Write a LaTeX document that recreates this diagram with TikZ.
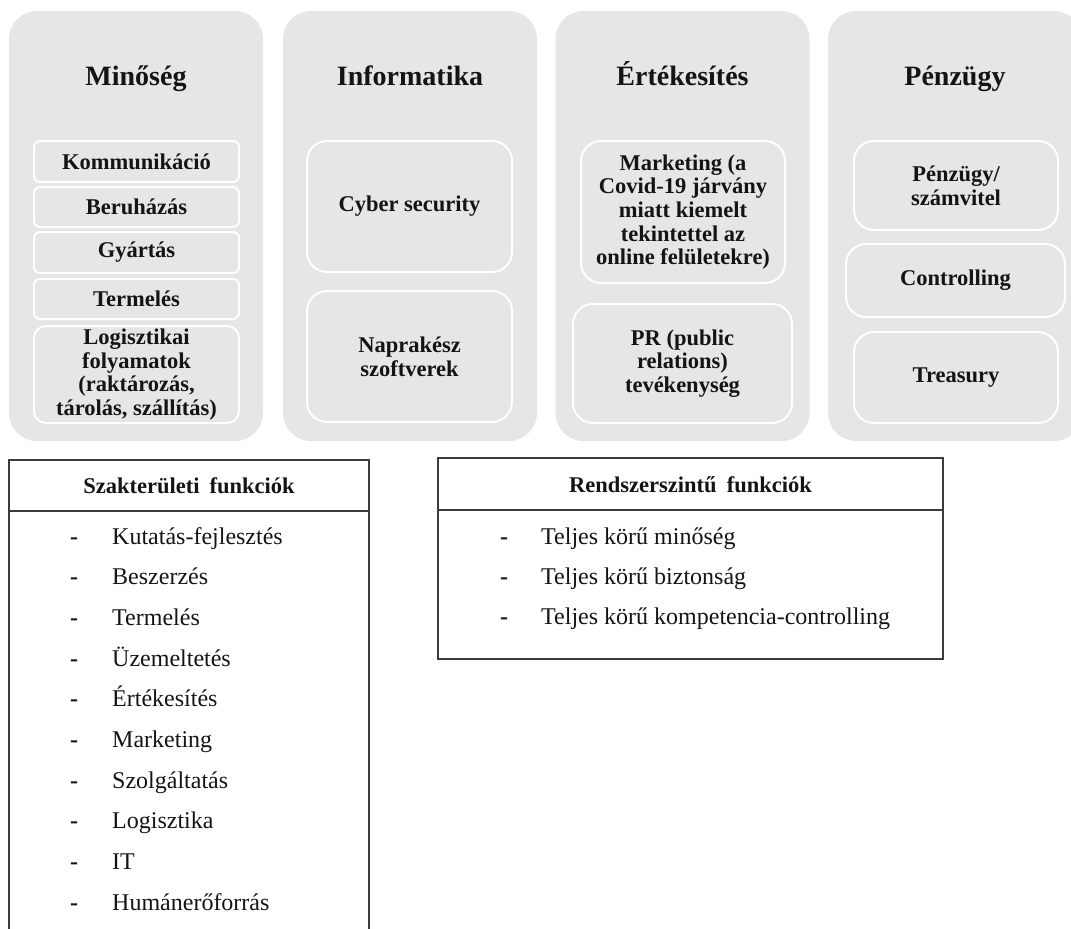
\documentclass[tikz,border=0pt]{standalone}
\usepackage{fontspec}
\setmainfont{Liberation Serif}
\definecolor{panelgray}{HTML}{E6E6E6}
\definecolor{ink}{HTML}{141414}
\definecolor{rulegray}{HTML}{3C3C3C}
\begin{document}
\begin{tikzpicture}[x=1pt,y=-1pt,
  panel/.style={fill=panelgray, draw=none, rounded corners=28pt, inner sep=0pt,
    minimum width=254pt, minimum height=430pt},
  headtitle/.style={anchor=base, text=ink, inner sep=0pt,
    font=\bfseries\fontsize{28}{30}\selectfont},
  itembox/.style={fill=panelgray, draw=white, line width=2pt, rounded corners=20pt,
    inner sep=0pt, align=center, text=ink,
    font=\bfseries\fontsize{22.5}{23.6}\selectfont},
  smallbox/.style={itembox, rounded corners=6pt},
  rule/.style={draw=rulegray, line width=1.5pt},
  tablehead/.style={anchor=base, text=ink, inner sep=0pt,
    font=\bfseries\fontsize{22.5}{24}\selectfont},
  dashmark/.style={anchor=base, text=ink, inner sep=0pt,
    font=\bfseries\fontsize{24}{26}\selectfont},
  listtext/.style={anchor=base west, text=ink, inner sep=0pt,
    font=\fontsize{24}{26}\selectfont}
]
\useasboundingbox (0,0) rectangle (1071,929);
\clip (0,0) rectangle (1071,929);

% four grey columns
\node[panel] (colMin) at (136,226) {};
\node[panel] (colInf) at (410,226) {};
\node[panel] (colErt) at (682.5,226) {};
\node[panel] (colPen) at (955,226) {};

\node[headtitle] (tMin) at (136,85) {Minőség};
\node[headtitle] (tInf) at (410,85) {Informatika};
\node[headtitle] (tErt) at (682.5,85) {Értékesítés};
\node[headtitle] (tPen) at (955,85) {Pénzügy};

% Minőség column
\node[smallbox, minimum width=205pt, minimum height=41pt] (bKom) at (136.5,161.5) {Kommunikáció};
\node[smallbox, minimum width=205pt, minimum height=40pt] (bBer) at (136.5,207) {Beruházás};
\node[smallbox, minimum width=205pt, minimum height=41pt] (bGya) at (136.5,252.5) {Gyártás};
\node[smallbox, minimum width=205pt, minimum height=40pt] (bTer) at (136.5,299) {Termelés};
\node[itembox, rounded corners=12pt, minimum width=205pt, minimum height=97pt] (bLog) at (136.5,374.5)
  {Logisztikai\\folyamatok\\(raktározás,\\tárolás, szállítás)};

% Informatika column
\node[itembox, minimum width=205pt, minimum height=131pt] (bCyb) at (409.5,206.5) {Cyber security};
\node[itembox, minimum width=205pt, minimum height=131pt] (bNap) at (409.5,356.5) {Naprakész\\szoftverek};

% Értékesítés column
\node[itembox, minimum width=204pt, minimum height=142pt] (bMar) at (683,212)
  {Marketing (a\\Covid-19 járvány\\miatt kiemelt\\tekintettel az\\online felületekre)};
\node[itembox, minimum width=219pt, minimum height=119pt] (bPR) at (682.5,363.5)
  {PR (public\\relations)\\tevékenység};

% Pénzügy column
\node[itembox, minimum width=204pt, minimum height=89pt] (bSzam) at (956,185.5) {Pénzügy/\\számvitel};
\node[itembox, minimum width=219pt, minimum height=73pt] (bCon) at (955.5,280.5) {Controlling};
\node[itembox, minimum width=204pt, minimum height=91pt] (bTre) at (956,377.5) {Treasury};

% table of specialist functions (open at the bottom)
\draw[rule] (9,935) -- (9,460) -- (369,460) -- (369,935);
\draw[rule] (9,511) -- (369,511);
\node[tablehead] (hSzak) at (189,493) {Szakterületi\hspace{0.45em}funkciók};

\foreach \txt [count=\i from 0] in {Kutatás-fejlesztés, Beszerzés, Termelés, Üzemeltetés,
    Értékesítés, Marketing, Szolgáltatás, Logisztika, IT, Humánerőforrás} {
  \node[dashmark] (dS\i) at (74,544+40.7*\i) {-};
  \node[listtext] (lS\i) at (112,544+40.7*\i) {\txt};
}

% table of system-level functions
\draw[rule] (438,458) rectangle (943,659);
\draw[rule] (438,510) -- (943,510);
\node[tablehead] (hRend) at (690.5,492) {Rendszerszintű\hspace{0.45em}funkciók};

\foreach \txt [count=\i from 0] in {Teljes körű minőség, Teljes körű biztonság,
    Teljes körű kompetencia-controlling} {
  \node[dashmark] (dR\i) at (504,544+40*\i) {-};
  \node[listtext] (lR\i) at (541,544+40*\i) {\txt};
}
\end{tikzpicture}
\end{document}
